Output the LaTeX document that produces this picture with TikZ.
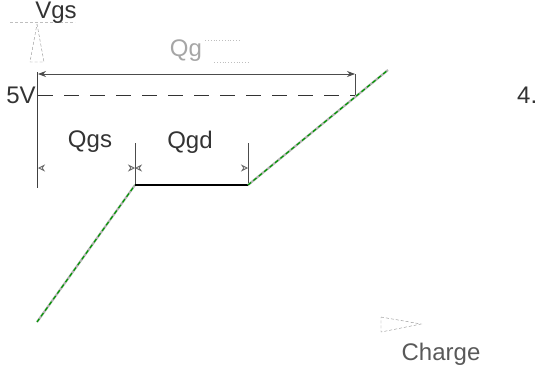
\documentclass[tikz,border=0pt]{standalone}
\usepackage{fontspec}
\setmainfont{Liberation Sans}
\usetikzlibrary{arrows.meta}

\begin{document}
\begin{tikzpicture}[x=1pt, y=-1pt,
  lbl/.style={font=\fontsize{24}{26}\selectfont, text=black!80, inner sep=0pt},
  axisline/.style={draw=black!75, thick},
  tickline/.style={draw=black!70, thick},
  dim/.style={{Stealth[length=8pt,width=6pt]}-{Stealth[length=8pt,width=6pt]}, thick, black!70},
  headsonly/.style={draw=white, {Stealth[length=7pt,width=7pt,open,color=black!60]}-{Stealth[length=7pt,width=7pt,open,color=black!60]}, thick},
  level/.style={draw=black!80, thick, dash pattern=on 15pt off 11pt},
  plateau/.style={draw=black, line width=2pt},
  ramp/.style={draw=black!30, line width=2.2pt,
               postaction={draw=green!60!black, line width=1.2pt, dash pattern=on 4pt off 3pt}},
  ghost/.style={draw=black!45, densely dashed, thin},
]
\useasboundingbox (0,0) rectangle (540,369);
% curve points
\coordinate (p0) at (37,322);
\coordinate (p1) at (135,185);
\coordinate (p2) at (248,185);
\coordinate (p3) at (388,70);
% Vgs axis
\coordinate (vtop) at (37,72);
\coordinate (vbot) at (37,188);
\draw[axisline] (vtop) -- (vbot);
\draw[ghost] (37,24) -- (44,62) -- (30,62) -- cycle;
\draw[ghost, black!25] (10,22) -- (75,22);
\node[lbl, anchor=north] (vgs) at (56,2) {Vgs};
% Qg and 5V level
\coordinate (qgl) at (38,74);
\coordinate (qgr) at (355,74);
\coordinate (fivel) at (38,95);
\coordinate (fiver) at (355,95);
\draw[dim] (qgl) -- (qgr);
\draw[level] (fivel) -- (fiver);
\draw[tickline] (qgr) -- (fiver);
\node[lbl, text=black!35] (qg) at (186,51) {Qg};
\draw[black!25, dotted, thick] (qg.north east) ++(3,0) -- ++(35,0);
\draw[black!25, dotted, thick] (qg.south east) ++(12,0) -- ++(35,0);
\node[lbl] (fivev) at (21,95) {5V};
\node[lbl, anchor=west] (fourv) at (517,95) {4.};
% Qgs / Qgd
\coordinate (t1) at (135,143);
\coordinate (t2) at (248,143);
\draw[tickline] (t1) -- (p1);
\draw[tickline] (t2) -- (p2);
\coordinate (d0) at (38,168);
\coordinate (d1) at (135,168);
\coordinate (d2) at (248,168);
\draw[headsonly] (d0) -- (d1);
\draw[headsonly] (d1) -- (d2);
\node[lbl] (qgs) at (90,142) {Qgs};
\node[lbl] (qgd) at (190,142) {Qgd};
% gate charge curve
\draw[ramp] (p0) -- (p1);
\draw[plateau] (p1) -- (p2);
\draw[ramp] (p2) -- (p3);
% charge axis
\draw[ghost] (381,317) -- (421,324) -- (381,332) -- cycle;
\node[lbl, text=black!65] (charge) at (441,354) {Charge};
\end{tikzpicture}
\end{document}
